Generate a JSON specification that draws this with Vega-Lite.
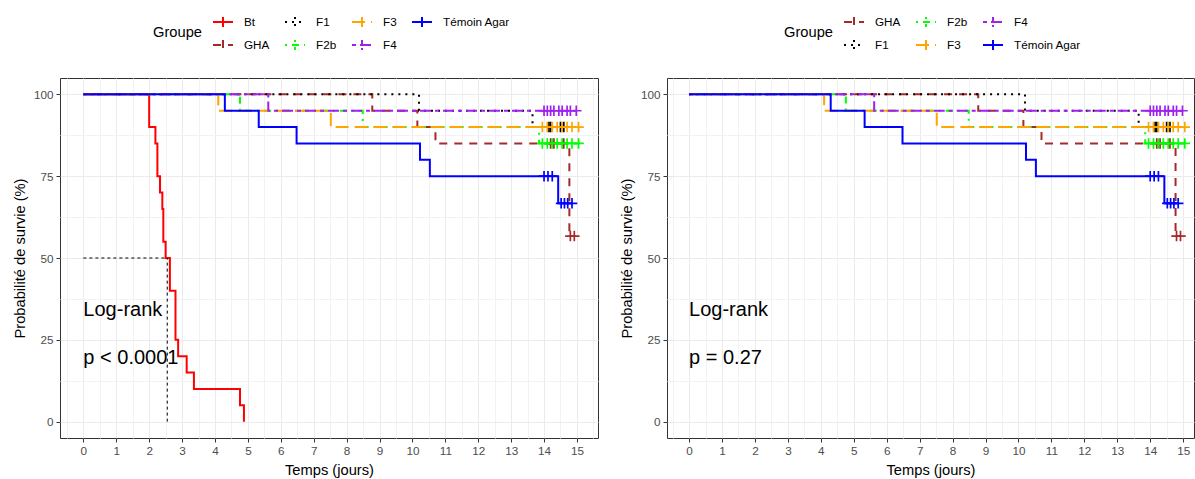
{
  "$schema": "https://vega.github.io/schema/vega-lite/v6.json",
  "padding": {"left": 11, "top": 10, "right": 2, "bottom": 4},
  "background": "white",
  "config": {
    "font": "Liberation Sans",
    "view": {"stroke": "#333333", "strokeWidth": 1},
    "axis": {
      "domain": false,
      "tickColor": "#333333",
      "tickSize": 4,
      "labelColor": "#4D4D4D",
      "labelFontSize": 11.7,
      "labelPadding": 3,
      "titleFontSize": 14.7,
      "titleFontWeight": "normal",
      "titleColor": "#000000",
      "titlePadding": 6
    },
    "legend": {
      "titleFontSize": 14.7,
      "titleFontWeight": "normal",
      "titleColor": "#000000",
      "labelFontSize": 11.7,
      "labelColor": "#000000",
      "titleOrient": "left",
      "titleAnchor": "middle",
      "titleBaseline": "middle",
      "titlePadding": 10,
      "symbolType": "M-1,0L1,0M0,-0.5L0,0.5",
      "symbolSize": 400,
      "symbolStrokeWidth": 2,
      "labelOffset": 10,
      "columnPadding": 11,
      "rowPadding": 3,
      "direction": "horizontal",
      "orient": "none"
    }
  },
  "datasets": {
    "courbes": [
      {"groupe": "Bt", "temps": 0, "survie": 100},
      {"groupe": "Bt", "temps": 2.0, "survie": 90},
      {"groupe": "Bt", "temps": 2.19, "survie": 85},
      {"groupe": "Bt", "temps": 2.25, "survie": 75},
      {"groupe": "Bt", "temps": 2.33, "survie": 70},
      {"groupe": "Bt", "temps": 2.4, "survie": 65},
      {"groupe": "Bt", "temps": 2.43, "survie": 55},
      {"groupe": "Bt", "temps": 2.5, "survie": 50},
      {"groupe": "Bt", "temps": 2.63, "survie": 40},
      {"groupe": "Bt", "temps": 2.8, "survie": 25},
      {"groupe": "Bt", "temps": 2.88, "survie": 20},
      {"groupe": "Bt", "temps": 3.14, "survie": 15},
      {"groupe": "Bt", "temps": 3.36, "survie": 10},
      {"groupe": "Bt", "temps": 4.76, "survie": 5},
      {"groupe": "Bt", "temps": 4.88, "survie": 0},
      {"groupe": "GHA", "temps": 0, "survie": 100},
      {"groupe": "GHA", "temps": 8.78, "survie": 95},
      {"groupe": "GHA", "temps": 10.15, "survie": 90},
      {"groupe": "GHA", "temps": 10.7, "survie": 85},
      {"groupe": "GHA", "temps": 14.77, "survie": 56.7},
      {"groupe": "GHA", "temps": 14.92, "survie": 56.7},
      {"groupe": "F1", "temps": 0, "survie": 100},
      {"groupe": "F1", "temps": 10.2, "survie": 95},
      {"groupe": "F1", "temps": 13.65, "survie": 90},
      {"groupe": "F1", "temps": 14.6, "survie": 90},
      {"groupe": "F2b", "temps": 0, "survie": 100},
      {"groupe": "F2b", "temps": 4.76, "survie": 95},
      {"groupe": "F2b", "temps": 8.49, "survie": 90},
      {"groupe": "F2b", "temps": 13.85, "survie": 85},
      {"groupe": "F2b", "temps": 15.05, "survie": 85},
      {"groupe": "F3", "temps": 0, "survie": 100},
      {"groupe": "F3", "temps": 4.1, "survie": 95},
      {"groupe": "F3", "temps": 7.52, "survie": 90},
      {"groupe": "F3", "temps": 15.05, "survie": 90},
      {"groupe": "F4", "temps": 0, "survie": 100},
      {"groupe": "F4", "temps": 5.62, "survie": 95},
      {"groupe": "F4", "temps": 14.98, "survie": 95},
      {"groupe": "Témoin Agar", "temps": 0, "survie": 100},
      {"groupe": "Témoin Agar", "temps": 4.3, "survie": 95},
      {"groupe": "Témoin Agar", "temps": 5.33, "survie": 90},
      {"groupe": "Témoin Agar", "temps": 6.48, "survie": 85},
      {"groupe": "Témoin Agar", "temps": 10.23, "survie": 80},
      {"groupe": "Témoin Agar", "temps": 10.53, "survie": 75},
      {"groupe": "Témoin Agar", "temps": 14.43, "survie": 66.7},
      {"groupe": "Témoin Agar", "temps": 14.85, "survie": 66.7}
    ],
    "censures": [
      {"groupe": "GHA", "temps": 14.2, "survie": 85},
      {"groupe": "GHA", "temps": 14.3, "survie": 85},
      {"groupe": "GHA", "temps": 14.6, "survie": 85},
      {"groupe": "GHA", "temps": 14.8, "survie": 56.7},
      {"groupe": "GHA", "temps": 14.92, "survie": 56.7},
      {"groupe": "F1", "temps": 14.15, "survie": 90},
      {"groupe": "F1", "temps": 14.2, "survie": 90},
      {"groupe": "F1", "temps": 14.5, "survie": 90},
      {"groupe": "F1", "temps": 14.6, "survie": 90},
      {"groupe": "F2b", "temps": 13.95, "survie": 85},
      {"groupe": "F2b", "temps": 14.1, "survie": 85},
      {"groupe": "F2b", "temps": 14.25, "survie": 85},
      {"groupe": "F2b", "temps": 14.4, "survie": 85},
      {"groupe": "F2b", "temps": 14.55, "survie": 85},
      {"groupe": "F2b", "temps": 14.7, "survie": 85},
      {"groupe": "F2b", "temps": 14.85, "survie": 85},
      {"groupe": "F2b", "temps": 15.05, "survie": 85},
      {"groupe": "F3", "temps": 13.95, "survie": 90},
      {"groupe": "F3", "temps": 14.1, "survie": 90},
      {"groupe": "F3", "temps": 14.25, "survie": 90},
      {"groupe": "F3", "temps": 14.4, "survie": 90},
      {"groupe": "F3", "temps": 14.55, "survie": 90},
      {"groupe": "F3", "temps": 14.7, "survie": 90},
      {"groupe": "F3", "temps": 14.85, "survie": 90},
      {"groupe": "F3", "temps": 15.05, "survie": 90},
      {"groupe": "F4", "temps": 14.0, "survie": 95},
      {"groupe": "F4", "temps": 14.1, "survie": 95},
      {"groupe": "F4", "temps": 14.2, "survie": 95},
      {"groupe": "F4", "temps": 14.3, "survie": 95},
      {"groupe": "F4", "temps": 14.45, "survie": 95},
      {"groupe": "F4", "temps": 14.55, "survie": 95},
      {"groupe": "F4", "temps": 14.7, "survie": 95},
      {"groupe": "F4", "temps": 14.8, "survie": 95},
      {"groupe": "F4", "temps": 14.98, "survie": 95},
      {"groupe": "Témoin Agar", "temps": 14.0, "survie": 75},
      {"groupe": "Témoin Agar", "temps": 14.12, "survie": 75},
      {"groupe": "Témoin Agar", "temps": 14.25, "survie": 75},
      {"groupe": "Témoin Agar", "temps": 14.52, "survie": 66.7},
      {"groupe": "Témoin Agar", "temps": 14.62, "survie": 66.7},
      {"groupe": "Témoin Agar", "temps": 14.72, "survie": 66.7},
      {"groupe": "Témoin Agar", "temps": 14.85, "survie": 66.7}
    ],
    "mediane": [
      {"temps": 0, "temps2": 2.55, "survie": 50, "survie2": 50},
      {"temps": 2.55, "temps2": 2.55, "survie": 0, "survie2": 50}
    ],
    "notes": [
      {"panneau": "gauche", "temps": 0, "survie": 34, "texte": "Log-rank"},
      {"panneau": "gauche", "temps": 0, "survie": 19.5, "texte": "p < 0.0001"},
      {"panneau": "droite", "temps": 0, "survie": 34, "texte": "Log-rank"},
      {"panneau": "droite", "temps": 0, "survie": 19.5, "texte": "p = 0.27"}
    ]
  },
  "spacing": 19,
  "hconcat": [
    {
      "width": 538,
      "height": 360,
      "encoding": {
        "x": {
          "field": "temps", "type": "quantitative",
          "scale": {"domain": [-0.71, 15.64], "nice": false, "zero": false},
          "axis": {
            "title": "Temps (jours)",
            "values": [-0.5, 0, 0.5, 1, 1.5, 2, 2.5, 3, 3.5, 4, 4.5, 5, 5.5, 6, 6.5, 7, 7.5, 8, 8.5, 9, 9.5, 10, 10.5, 11, 11.5, 12, 12.5, 13, 13.5, 14, 14.5, 15, 15.5],
            "labelExpr": "datum.value % 1 === 0 ? format(datum.value, 'd') : ''",
            "tickOpacity": {"condition": {"test": "datum.value % 1 !== 0", "value": 0}, "value": 1},
            "gridColor": {"condition": {"test": "datum.value % 1 !== 0", "value": "#F2F2F2"}, "value": "#EBEBEB"}
          }
        },
        "y": {
          "field": "survie", "type": "quantitative",
          "scale": {"domain": [-5, 105], "nice": false, "zero": false},
          "axis": {
            "title": "Probabilité de survie (%)",
            "values": [0, 12.5, 25, 37.5, 50, 62.5, 75, 87.5, 100],
            "labelExpr": "datum.value % 25 === 0 ? format(datum.value, 'd') : ''",
            "tickOpacity": {"condition": {"test": "datum.value % 25 !== 0", "value": 0}, "value": 1},
            "gridColor": {"condition": {"test": "datum.value % 25 !== 0", "value": "#F2F2F2"}, "value": "#EBEBEB"}
          }
        }
      },
      "layer": [
        {
          "data": {"name": "courbes"},
          "mark": {"type": "line", "interpolate": "step-after", "strokeWidth": 2},
          "encoding": {
            "color": {
              "field": "groupe", "type": "nominal",
              "scale": {"domain": ["Bt", "F1", "F3", "Témoin Agar", "GHA", "F2b", "F4"], "range": ["#FF0000", "#000000", "#FFA500", "#0000FF", "#A52A2A", "#00FF00", "#A020F0"]},
              "legend": {"title": "Groupe", "columns": 4, "legendX": 93, "legendY": -67}
            },
            "strokeDash": {
              "field": "groupe", "type": "nominal",
              "scale": {"domain": ["Bt", "F1", "F3", "Témoin Agar", "GHA", "F2b", "F4"], "range": [[1, 0], [2, 5], [13, 6], [1, 0], [8, 7], [2, 5, 7, 5], [4, 4, 11, 4]]},
              "legend": {"title": "Groupe", "columns": 4, "legendX": 93, "legendY": -67}
            }
          }
        },
        {
          "data": {"name": "censures"},
          "mark": {"type": "point", "shape": "M-1,0L1,0M0,-1L0,1", "filled": false, "size": 110, "strokeWidth": 1.7, "opacity": 1},
          "encoding": {
            "color": {"field": "groupe", "type": "nominal"}
          }
        },
        {
          "data": {"name": "mediane"},
          "mark": {"type": "rule", "color": "#000000", "strokeWidth": 1, "strokeDash": [3, 3]},
          "encoding": {
            "x2": {"field": "temps2"},
            "y2": {"field": "survie2"}
          }
        },
        {
          "data": {"name": "notes"},
          "transform": [{"filter": "datum.panneau === 'gauche'"}],
          "mark": {"type": "text", "align": "left", "baseline": "middle", "fontSize": 20, "color": "#000000"},
          "encoding": {"text": {"field": "texte"}}
        }
      ]
    },
    {
      "width": 527,
      "height": 360,
      "encoding": {
        "x": {
          "field": "temps", "type": "quantitative",
          "scale": {"domain": [-0.67, 15.33], "nice": false, "zero": false},
          "axis": {
            "title": "Temps (jours)",
            "values": [-0.5, 0, 0.5, 1, 1.5, 2, 2.5, 3, 3.5, 4, 4.5, 5, 5.5, 6, 6.5, 7, 7.5, 8, 8.5, 9, 9.5, 10, 10.5, 11, 11.5, 12, 12.5, 13, 13.5, 14, 14.5, 15],
            "labelExpr": "datum.value % 1 === 0 ? format(datum.value, 'd') : ''",
            "tickOpacity": {"condition": {"test": "datum.value % 1 !== 0", "value": 0}, "value": 1},
            "gridColor": {"condition": {"test": "datum.value % 1 !== 0", "value": "#F2F2F2"}, "value": "#EBEBEB"}
          }
        },
        "y": {
          "field": "survie", "type": "quantitative",
          "scale": {"domain": [-5, 105], "nice": false, "zero": false},
          "axis": {
            "title": "Probabilité de survie (%)",
            "values": [0, 12.5, 25, 37.5, 50, 62.5, 75, 87.5, 100],
            "labelExpr": "datum.value % 25 === 0 ? format(datum.value, 'd') : ''",
            "tickOpacity": {"condition": {"test": "datum.value % 25 !== 0", "value": 0}, "value": 1},
            "gridColor": {"condition": {"test": "datum.value % 25 !== 0", "value": "#F2F2F2"}, "value": "#EBEBEB"}
          }
        }
      },
      "layer": [
        {
          "data": {"name": "courbes"},
          "transform": [{"filter": "datum.groupe !== 'Bt'"}],
          "mark": {"type": "line", "interpolate": "step-after", "strokeWidth": 2},
          "encoding": {
            "color": {
              "field": "groupe", "type": "nominal",
              "scale": {"domain": ["GHA", "F2b", "F4", "F1", "F3", "Témoin Agar"], "range": ["#A52A2A", "#00FF00", "#A020F0", "#000000", "#FFA500", "#0000FF"]},
              "legend": {"title": "Groupe", "columns": 3, "legendX": 117, "legendY": -67}
            },
            "strokeDash": {
              "field": "groupe", "type": "nominal",
              "scale": {"domain": ["GHA", "F2b", "F4", "F1", "F3", "Témoin Agar"], "range": [[8, 7], [2, 5, 7, 5], [4, 4, 11, 4], [2, 5], [13, 6], [1, 0]]},
              "legend": {"title": "Groupe", "columns": 3, "legendX": 117, "legendY": -67}
            }
          }
        },
        {
          "data": {"name": "censures"},
          "mark": {"type": "point", "shape": "M-1,0L1,0M0,-1L0,1", "filled": false, "size": 110, "strokeWidth": 1.7, "opacity": 1},
          "encoding": {
            "color": {"field": "groupe", "type": "nominal"}
          }
        },
        {
          "data": {"name": "notes"},
          "transform": [{"filter": "datum.panneau === 'droite'"}],
          "mark": {"type": "text", "align": "left", "baseline": "middle", "fontSize": 20, "color": "#000000"},
          "encoding": {"text": {"field": "texte"}}
        }
      ]
    }
  ],
  "resolve": {
    "scale": {"color": "independent", "strokeDash": "independent"},
    "legend": {"color": "independent", "strokeDash": "independent"}
  }
}
